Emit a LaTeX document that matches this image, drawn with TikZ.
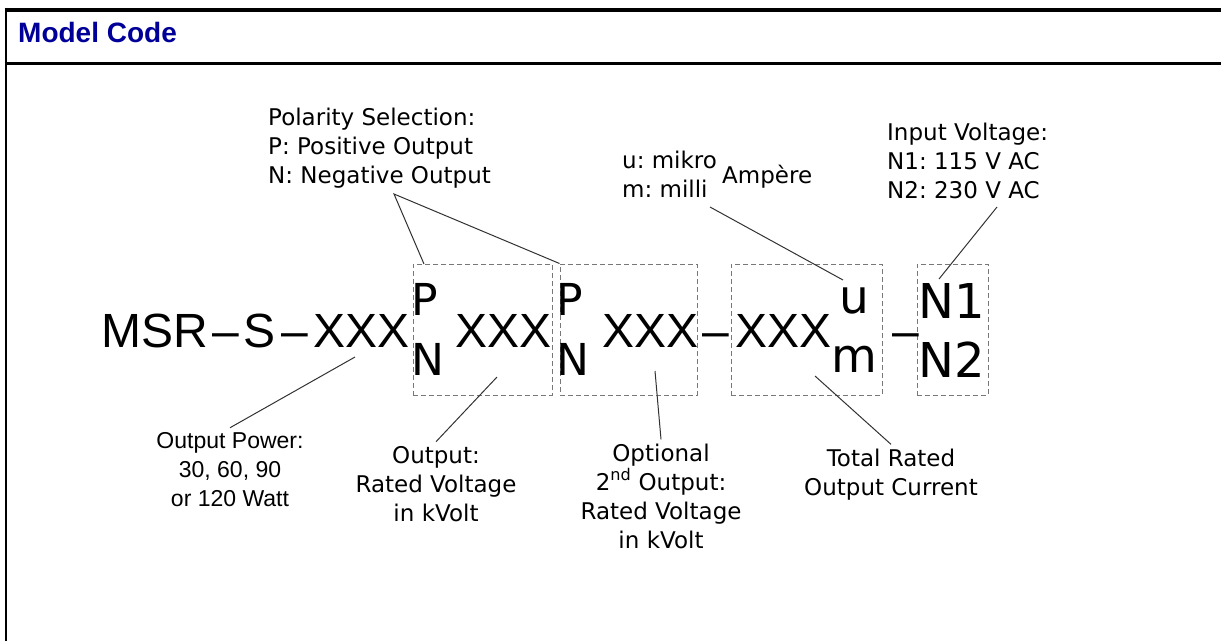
\documentclass[tikz,border=0pt]{standalone}
\usepackage{fontspec}
\setmainfont{DejaVu Sans}
\newfontfamily\arialfont{Liberation Sans}
\usepackage{tikz}
\usetikzlibrary{positioning}
\definecolor{mchead}{RGB}{0,0,153}
\definecolor{mcbox}{RGB}{120,120,120}
\definecolor{mcline}{RGB}{50,50,50}
\tikzstyle{frame} = [line width=3pt, black]
\tikzstyle{codetext} = [inner sep=0pt, anchor=base west, font=\arialfont\fontsize{48}{48}\selectfont]
\tikzstyle{seltext} = [inner sep=0pt, anchor=base west, font=\fontsize{44}{44}\selectfont]
\tikzstyle{unittext} = [inner sep=0pt, anchor=base west, font=\fontsize{47}{47}\selectfont]
\tikzstyle{selbox} = [rectangle, draw=mcbox, dash pattern=on 5pt off 3pt, line width=1pt, inner sep=0pt]
\tikzstyle{lbl} = [inner sep=4pt, align=center, anchor=base, font=\fontsize{23}{29}\selectfont]
\tikzstyle{pointer} = [mcline, line width=1pt]

\begin{document}
\frenchspacing
\begin{tikzpicture}[x=1pt, y=-1pt]
\useasboundingbox (0,0) rectangle (1221,641);

% Frame and header
\draw[frame, line width=4pt] (4.7,9.5) -- (1221,9.5);
\draw[frame, line width=2pt] (5.7,7.5) -- (5.7,641);
\draw[frame] (4.7,63.7) -- (1221,63.7);
\node[inner sep=0pt, anchor=base west, text=mchead, font=\arialfont\bfseries\fontsize{28}{28}\selectfont] (title) at (18,42) {Model Code};

% Selection boxes
\node[selbox, minimum width=139, minimum height=131] (box1) at (482.5,329.5) {};
\node[selbox, minimum width=137, minimum height=131] (box2) at (628.5,329.5) {};
\node[selbox, minimum width=151, minimum height=131] (box3) at (806.5,329.5) {};
\node[selbox, minimum width=71, minimum height=131] (box4) at (952.5,329.5) {};

% Model code
\node[codetext] (msr) at (101.5,347) {MSR};
\node[codetext] (dash1) at (212,347) {–};
\node[codetext] (s) at (243,347) {S};
\node[codetext] (dash2) at (281,347) {–};
\node[codetext] (xxx1) at (313,347) {XXX};
\node[seltext] (pol1p) at (411,315) {P};
\node[seltext] (pol1n) at (411,375) {N};
\node[codetext] (xxx2) at (455,347) {XXX};
\node[seltext] (pol2p) at (556,315) {P};
\node[seltext] (pol2n) at (556,375) {N};
\node[codetext] (xxx3) at (602,347) {XXX};
\node[codetext] (dash3) at (702,347) {–};
\node[codetext] (xxx4) at (735,347) {XXX};
\node[unittext] (micro) at (839,313) {u};
\node[unittext] (milli) at (831,372) {m};
\node[codetext] (dash4) at (892,347) {–};
\node[codetext, font=\fontsize{48}{48}\selectfont] (in1) at (918,318) {N1};
\node[codetext, font=\fontsize{48}{48}\selectfont] (in2) at (918,377) {N2};

% Labels above (base = last line)
\node[lbl, align=left, anchor=base west] (pollbl) at (264,183) {Polarity Selection:\\P: Positive Output\\N: Negative Output};
\node[lbl, align=left, anchor=base west, inner sep=0pt] (unitlbl) at (622,197) {u: mikro\\m: milli};
\node[lbl, anchor=base west, inner sep=0pt] (amplbl) at (722,183) {Ampère};
\node[lbl, align=left, anchor=base west, inner sep=0pt] (inlbl) at (887,198) {Input Voltage:\\N1: 115 V AC\\N2: 230 V AC};

% Labels below (base = last line)
\node[lbl, font=\arialfont\fontsize{23}{29}\selectfont] (powlbl) at (230,506) {Output Power:\\30, 60, 90\\or 120 Watt};
\node[lbl] (outlbl) at (436,521) {Output:\\Rated Voltage\\in kVolt};
\node[lbl] (optlbl) at (661,548) {Optional\\2\textsuperscript{nd} Output:\\Rated Voltage\\in kVolt};
\node[lbl] (curlbl) at (891,495) {Total Rated\\Output Current};

% Pointer ends
\coordinate (powtip) at (355,357);
\coordinate (outtip) at (497,377);
\coordinate (opttip) at (655,371);
\coordinate (curtip) at (815,376);
\coordinate (polapex) at (394,194);
\coordinate (pol1tip) at (424,264);
\coordinate (unitfoot) at (710,207);
\coordinate (utip) at (843,280);
\coordinate (infoot) at (997,207);
\coordinate (in1tip) at (939,279);

% Pointers
\draw[pointer] (powlbl.north) -- (powtip);
\draw[pointer] (outlbl.north) -- (outtip);
\draw[pointer] (optlbl.north) -- (opttip);
\draw[pointer] (curlbl.north) -- (curtip);
\draw[pointer] (pol1tip) -- (polapex) -- (box2.north west);
\draw[pointer] (unitfoot) -- (utip);
\draw[pointer] (infoot) -- (in1tip);
\end{tikzpicture}
\end{document}
